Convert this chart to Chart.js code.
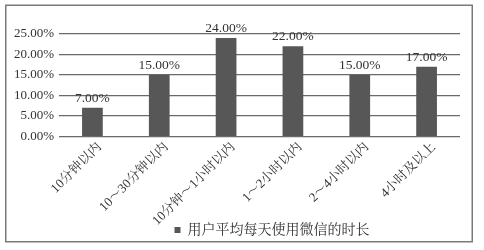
<!DOCTYPE html>
<html>
<head>
<meta charset="utf-8">
<script src="https://cdn.jsdelivr.net/npm/chart.js@4/dist/chart.umd.min.js"></script>
<style>
  html, body { margin: 0; padding: 0; background: #fff; }
  #wrap { width: 484px; height: 250px; position: relative; }
</style>
</head>
<body>
<div id="wrap"><canvas id="c" width="484" height="250"></canvas></div>
<script>
// Average daily WeChat usage time per user (share of users, %)
const categories = ['10分钟以内', '10～30分钟以内', '10分钟～1小时以内', '1～2小时以内', '2～4小时以内', '4小时及以上'];
const shares = [7, 15, 24, 22, 15, 17];
const yTicks = [0, 5, 10, 15, 20, 25];
const seriesName = '用户平均每天使用微信的时长';

const FONT = "'Liberation Serif', 'Noto Serif CJK SC', 'Noto Sans CJK SC', serif";
const BAR = '#575757';

// Outer frame around the whole chart
const framePlugin = {
  id: 'frame',
  beforeDraw(chart) {
    const ctx = chart.ctx;
    ctx.save();
    ctx.fillStyle = '#fff';
    ctx.fillRect(0, 0, chart.width, chart.height);
    ctx.strokeStyle = '#7a7a7a';
    ctx.lineWidth = 1.5;
    ctx.strokeRect(5.75, 5.25, 466.5, 236.5);
    ctx.restore();
  }
};

// Centre the legend under the plot area, and let the long rotated
// category labels run into the legend band without being clipped
const layoutTweaks = {
  id: 'layoutTweaks',
  afterLayout(chart) {
    const lg = chart.legend;
    if (lg) { lg.left = 84; lg.right = 460; }
    if (chart.scales.x) { chart.scales.x.bottom = chart.height; }
  }
};

// Value labels above each bar
const valueLabels = {
  id: 'valueLabels',
  afterDatasetsDraw(chart) {
    const ctx = chart.ctx;
    const meta = chart.getDatasetMeta(0);
    ctx.save();
    ctx.font = '13.5px ' + FONT;
    ctx.fillStyle = '#333';
    ctx.textAlign = 'center';
    ctx.textBaseline = 'bottom';
    meta.data.forEach((bar, i) => {
      const v = chart.data.datasets[0].data[i];
      ctx.fillText(v.toFixed(2) + '%', bar.x, bar.y - 3);
    });
    ctx.restore();
  }
};

new Chart(document.getElementById('c'), {
  type: 'bar',
  data: {
    labels: categories,
    datasets: [{
      label: seriesName,
      data: shares,
      backgroundColor: BAR,
      borderWidth: 0,
      barPercentage: 0.31,
      categoryPercentage: 1
    }]
  },
  options: {
    responsive: false,
    animation: false,
    devicePixelRatio: 1,
    layout: { padding: { top: 34, left: 0, right: 24, bottom: 3 } },
    plugins: {
      legend: {
        position: 'bottom',
        labels: {
          boxWidth: 6,
          boxHeight: 6,
          padding: 4,
          color: '#333',
          font: { family: FONT, size: 14, lineHeight: 1 }
        }
      },
      tooltip: { enabled: false }
    },
    scales: {
      x: {
        grid: { display: false, drawTicks: false },
        border: { display: false },
        ticks: {
          color: '#333',
          font: { family: FONT, size: 13 },
          minRotation: 45,
          maxRotation: 45,
          padding: 3,
          labelOffset: 7,
          autoSkip: false
        },
        afterFit(scale) { scale.height = 82.5; }
      },
      y: {
        min: 0,
        max: 25,
        afterBuildTicks(scale) { scale.ticks = yTicks.map(v => ({ value: v })); },
        grid: { color: '#6a6a6a', lineWidth: 1.2, drawTicks: false },
        border: { display: false },
        ticks: {
          color: '#333',
          font: { family: FONT, size: 13 },
          padding: 5,
          callback: v => v.toFixed(2) + '%'
        },
        afterFit(scale) { scale.width = 59; }
      }
    }
  },
  plugins: [framePlugin, layoutTweaks, valueLabels]
});
</script>
</body>
</html>
